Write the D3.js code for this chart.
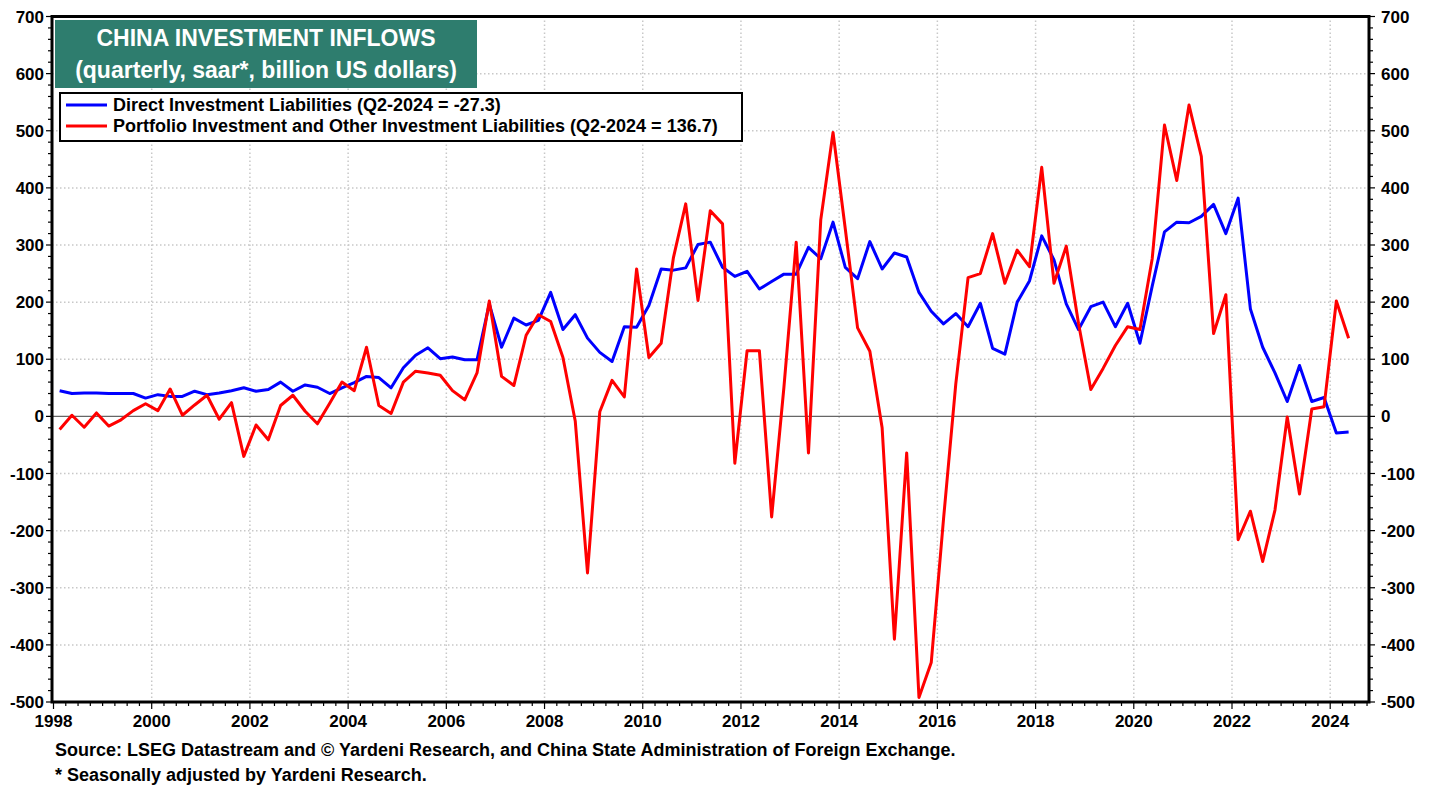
<!DOCTYPE html>
<html>
<head>
<meta charset="utf-8">
<script src="https://cdn.jsdelivr.net/npm/d3@7"></script>
<style>
  body { margin: 0; background: #fff; }
  svg { font-family: "Liberation Sans", Arial, sans-serif; font-weight: bold; }
</style>
</head>
<body>
<script>

// Quarterly values, Q1-1998 .. Q2-2024 (billion US dollars, saar)
var startYear = 1998

var directInv = [
  45, 40, 41, 41, 40, 40, 40, 32,
  38, 35, 35, 44, 38, 41, 45, 50,
  44, 47, 60, 44, 55, 51, 40, 50,
  59, 70, 68, 50, 85, 107, 120, 101,
  104, 99, 99, 197, 121, 172, 160, 168,
  217, 152, 178, 137, 112, 96, 157, 156,
  194, 258, 256, 260, 301, 305, 261, 245,
  254, 223, 236, 249, 249, 296, 276, 340,
  261, 241, 306, 258, 286, 279, 217, 184,
  162, 180, 157, 198, 119, 109, 200, 237,
  316, 274, 197, 152, 192, 200, 157, 198,
  128, 228, 323, 340, 339, 350, 371, 320,
  382, 188, 121, 76, 26, 89, 26, 33,
  -29, -27.3
]

var portfolioInv = [
  -23, 2, -19, 6, -17, -6, 10, 22,
  10, 48, 2, 20, 37, -5, 24, -70,
  -15, -41, 19, 37, 9, -13, 23, 60,
  45, 121, 19, 5, 60, 79, 76, 72,
  45, 29, 76, 202, 70, 54, 142, 178,
  166, 103, -8, -274, 8, 63, 34, 258,
  103, 128, 278, 372, 203, 360, 337, -82,
  115, 115, -176, 51, 305, -64, 344, 497,
  328, 155, 114, -20, -390, -64, -492, -431,
  -180, 57, 243, 250, 320, 233, 291, 262,
  436, 233, 298, 162, 47, 84, 124, 157,
  152, 276, 510, 413, 545, 455, 145, 213,
  -216, -166, -254, -164, -1, -136, 13, 17,
  202, 136.7
]

var yTicks = [-500, -400, -300, -200, -100, 0, 100, 200, 300, 400, 500, 600, 700]
var xTickYears = [1998, 2000, 2002, 2004, 2006, 2008, 2010, 2012, 2014, 2016, 2018, 2020, 2022, 2024]

var titleLines = ["CHINA INVESTMENT INFLOWS", "(quarterly, saar*, billion US dollars)"]
var legendLabels = [
  "Direct Investment Liabilities (Q2-2024 = -27.3)",
  "Portfolio Investment and Other Investment Liabilities (Q2-2024 = 136.7)"
]
var footnotes = [
  "Source: LSEG Datastream and \u00A9 Yardeni Research, and China State Administration of Foreign Exchange.",
  "* Seasonally adjusted by Yardeni Research."
]

// quarter midpoints as decimal years
var quarters = directInv.map(function(d, i) { return startYear + (i + 0.5) / 4 })

var width = 1436, height = 789
var plotL = 52, plotR = 1369, plotT = 16.5, plotB = 702

var svg = d3.select("body").append("svg")
          .attr("width", width)
          .attr("height", height)

var x = d3.scaleLinear().domain([1998, 2024.79]).range([53.5, plotR])
var y = d3.scaleLinear().domain([-500, 700]).range([plotB, plotT])

// dotted grid
svg.selectAll(".hgrid")
    .data(yTicks.filter(function(d) { return d > -500 && d < 700 && d != 0 }))
    .enter().append("line")
        .attr("class", "hgrid")
        .attr("x1", plotL).attr("x2", plotR)
        .attr("y1", function(d) { return y(d) }).attr("y2", function(d) { return y(d) })
        .attr("stroke", "#c8c8c8").attr("stroke-width", 1.5)
        .attr("stroke-dasharray", "1.5,2.5")

svg.selectAll(".vgrid")
    .data(xTickYears.filter(function(d) { return d > 1998 }))
    .enter().append("line")
        .attr("class", "vgrid")
        .attr("x1", function(d) { return x(d) }).attr("x2", function(d) { return x(d) })
        .attr("y1", plotT).attr("y2", plotB)
        .attr("stroke", "#c8c8c8").attr("stroke-width", 1.5)
        .attr("stroke-dasharray", "1.5,2.5")

// zero line
svg.append("line")
    .attr("x1", plotL).attr("x2", plotR)
    .attr("y1", y(0)).attr("y2", y(0))
    .attr("stroke", "#666").attr("stroke-width", 1.3)

// series lines
var line = d3.line()
    .x(function(d, i) { return x(quarters[i]) })
    .y(function(d) { return y(d) })

svg.append("path")
    .datum(directInv)
    .attr("d", line)
    .attr("fill", "none").attr("stroke", "#0000ff").attr("stroke-width", 3)
    .attr("stroke-linejoin", "round")

svg.append("path")
    .datum(portfolioInv)
    .attr("d", line)
    .attr("fill", "none").attr("stroke", "#ff0000").attr("stroke-width", 3)
    .attr("stroke-linejoin", "round")

// frame
svg.append("rect")
    .attr("x", plotL).attr("y", plotT)
    .attr("width", plotR - plotL).attr("height", plotB - plotT)
    .attr("fill", "none").attr("stroke", "#000").attr("stroke-width", 3)

// y axis ticks (every 20, labels every 100)
var yMinor = d3.range(-500, 701, 20)
svg.selectAll(".ytickL")
    .data(yMinor)
    .enter().append("line")
        .attr("x1", function(d) { return d % 100 == 0 ? plotL - 6 : plotL - 4 })
        .attr("x2", plotL)
        .attr("y1", function(d) { return y(d) }).attr("y2", function(d) { return y(d) })
        .attr("stroke", "#000").attr("stroke-width", 1.2)
svg.selectAll(".ytickR")
    .data(yMinor)
    .enter().append("line")
        .attr("x1", plotR)
        .attr("x2", function(d) { return d % 100 == 0 ? plotR + 6 : plotR + 4 })
        .attr("y1", function(d) { return y(d) }).attr("y2", function(d) { return y(d) })
        .attr("stroke", "#000").attr("stroke-width", 1.2)

svg.selectAll(".ylabL")
    .data(yTicks)
    .enter().append("text")
    .text(function(d) { return d })
        .attr("x", 44)
        .attr("y", function(d) { return y(d) + 6 })
        .attr("text-anchor", "end")
        .attr("font-size", 17)
svg.selectAll(".ylabR")
    .data(yTicks)
    .enter().append("text")
    .text(function(d) { return d })
        .attr("x", 1381)
        .attr("y", function(d) { return y(d) + 6 })
        .attr("font-size", 17)

// x axis ticks (quarterly minor) and labels
var xMinor = d3.range(0, 108).map(function(i) { return 1998 + i / 4 })
svg.selectAll(".xtick")
    .data(xMinor)
    .enter().append("line")
        .attr("x1", function(d) { return x(d) }).attr("x2", function(d) { return x(d) })
        .attr("y1", plotB)
        .attr("y2", function(d) { return (d % 2 == 0) ? plotB + 7 : plotB + 4 })
        .attr("stroke", "#000").attr("stroke-width", 1.2)

svg.selectAll(".xlab")
    .data(xTickYears)
    .enter().append("text")
    .text(function(d) { return d })
        .attr("x", function(d) { return x(d) })
        .attr("y", 727)
        .attr("text-anchor", "middle")
        .attr("font-size", 17)

// title box
svg.append("rect")
    .attr("x", 55).attr("y", 20).attr("width", 422).attr("height", 68)
    .attr("fill", "#2e7d6e")
svg.selectAll(".title")
    .data(titleLines)
    .enter().append("text")
    .text(function(d) { return d })
        .attr("x", 266)
        .attr("y", function(d, i) { return 46 + i * 32 })
        .attr("text-anchor", "middle")
        .attr("fill", "#fff")
        .attr("font-size", 23)

// legend
svg.append("rect")
    .attr("x", 60).attr("y", 93).attr("width", 682).attr("height", 48)
    .attr("fill", "#fff").attr("stroke", "#000").attr("stroke-width", 2)
var legColors = ["#0000ff", "#ff0000"]
svg.selectAll(".legline")
    .data(legColors)
    .enter().append("line")
        .attr("x1", 66).attr("x2", 107)
        .attr("y1", function(d, i) { return 105 + i * 21 }).attr("y2", function(d, i) { return 105 + i * 21 })
        .attr("stroke", function(d) { return d }).attr("stroke-width", 3)
svg.selectAll(".legtext")
    .data(legendLabels)
    .enter().append("text")
    .text(function(d) { return d })
        .attr("x", 113)
        .attr("y", function(d, i) { return 111 + i * 21 })
        .attr("font-size", 18)

// footnotes
svg.selectAll(".foot")
    .data(footnotes)
    .enter().append("text")
    .text(function(d) { return d })
        .attr("x", 55)
        .attr("y", function(d, i) { return 756 + i * 25 })
        .attr("font-size", 18)

</script>
</body>
</html>
